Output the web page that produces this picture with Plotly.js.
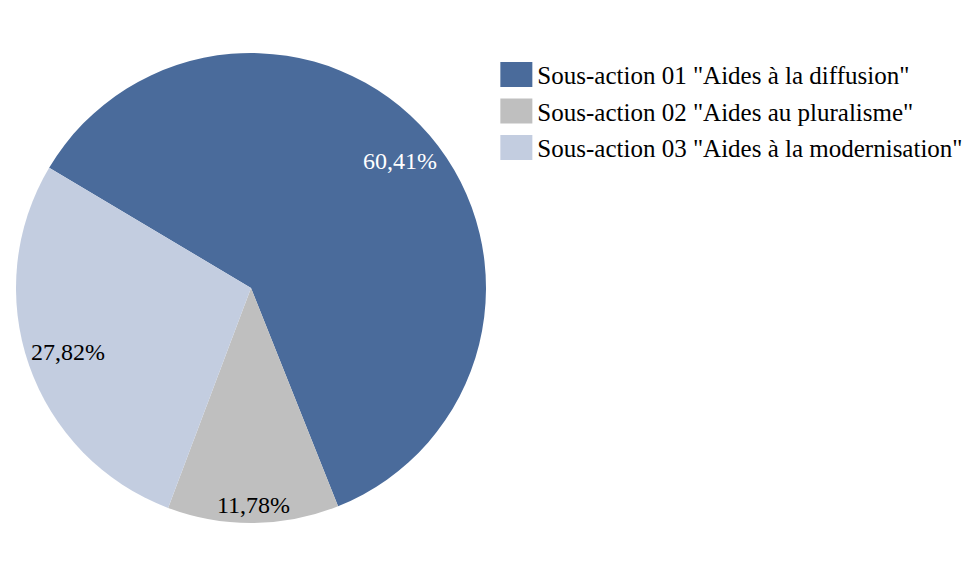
<!DOCTYPE html>
<html><head><meta charset="utf-8">
<script src="https://cdn.plot.ly/plotly-3.0.1.min.js"></script>
<style>html,body{margin:0;padding:0;background:#fff}</style>
</head><body>
<div id="chart" style="width:979px;height:576px"></div>
<script>
const labels = ['Sous-action 01 "Aides à la diffusion"', 'Sous-action 02 "Aides au pluralisme"', 'Sous-action 03 "Aides à la modernisation"'];
const values = [60.41, 11.78, 27.82];
const valueTexts = ['60,41%', '11,78%', '27,82%'];
const colors = ['#4a6b9b', '#bfbfbf', '#c3cde0'];
const textColors = ['#ffffff', '#000000', '#000000'];

const W = 979, H = 576;
const FONT = '"Liberation Serif", serif';
const LABEL_SIZE = 24;
const LEGEND_SIZE = 25;
const ROTATION = -59.2;
const dom = {x: [16/W, 486/W], y: [53/H, 523/H]};

// pie geometry in pixels (from domain)
const cx = (dom.x[0] + dom.x[1]) / 2 * W;
const cy = (1 - (dom.y[0] + dom.y[1]) / 2) * H;
const R = Math.min((dom.x[1]-dom.x[0]) * W, (dom.y[1]-dom.y[0]) * H) / 2;

// "inside end" labels: place each label along the slice's mid-angle, as far out as it fits
const ctx = document.createElement('canvas').getContext('2d');
ctx.font = LABEL_SIZE + 'px "Liberation Serif"';
const total = values.reduce((a, b) => a + b, 0);
let start = ROTATION;
const annotations = values.map((v, i) => {
  const sweep = v / total * 360;
  const mid = (start + sweep / 2) * Math.PI / 180;
  start += sweep;
  const dx = Math.sin(mid), dy = Math.cos(mid); // y up
  const hw = ctx.measureText(valueTexts[i]).width / 2, hh = LABEL_SIZE * 0.45;
  const target = R - 3;
  let r = 0;
  for (let t = 0; t < R; t += 0.5) {
    const px = Math.abs(t*dx) + hw, py = Math.abs(t*dy) + hh;
    if (Math.hypot(px, py) > target) break;
    r = t;
  }
  const x = cx + r * dx, y = cy - r * dy;
  return {x: x / W, y: 1 - y / H, xref: 'paper', yref: 'paper', xanchor: 'center', yanchor: 'middle',
    text: valueTexts[i], showarrow: false, font: {family: FONT, size: LABEL_SIZE, color: textColors[i]}};
});

Plotly.newPlot('chart', [{
  type: 'pie',
  labels: labels,
  values: values,
  text: valueTexts,
  textinfo: 'none',
  marker: {colors: colors, line: {width: 0}},
  sort: false,
  direction: 'clockwise',
  rotation: ROTATION,
  domain: dom,
  hoverinfo: 'label+text'
}], {
  width: W, height: H,
  margin: {l: 0, r: 0, t: 0, b: 0},
  paper_bgcolor: '#fff',
  font: {family: FONT, size: 24, color: '#000'},
  showlegend: true,
  annotations: annotations,
  legend: {x: 0.507, y: 0.91, xanchor: 'left', yanchor: 'top', bgcolor: 'rgba(0,0,0,0)',
           font: {family: FONT, size: LEGEND_SIZE, color: '#000'}, tracegroupgap: 0}
}, {staticPlot: true}).then(gd => {
  // larger rectangular legend swatches and line spacing, as in the reference
  gd.querySelectorAll('.legend .scrollbox').forEach(s => s.removeAttribute('clip-path'));
  gd.querySelectorAll('.legendpoints path').forEach(p => p.setAttribute('d', 'M16,12.5H-16V-12.5H16Z'));
  gd.querySelectorAll('.legendtext').forEach(t => t.setAttribute('x', '41'));
  const items = gd.querySelectorAll('.legend .traces');
  let y0 = null;
  items.forEach((g, i) => {
    const m = /translate\(([-\d.]+),\s*([-\d.]+)\)/.exec(g.getAttribute('transform') || '');
    const tx = m ? +m[1] : 0, ty = m ? +m[2] : 0;
    if (y0 === null) y0 = ty;
    g.setAttribute('transform', 'translate(' + tx + ',' + (y0 + i * 36.5) + ')');
  });
});
</script>
</body></html>
